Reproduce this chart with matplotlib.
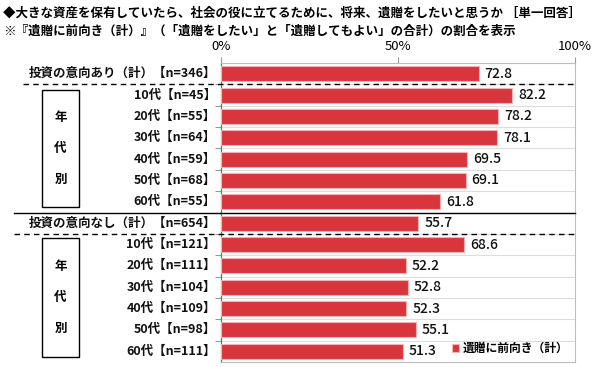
import matplotlib
matplotlib.use("Agg")
import matplotlib.pyplot as plt
import matplotlib.transforms as mtransforms
from matplotlib.patches import Rectangle

plt.rcParams["font.family"] = ["Noto Sans CJK JP", "DejaVu Sans"]

# data
labels = [
    "投資の意向あり（計）【n=346】",
    "10代【n=45】", "20代【n=55】", "30代【n=64】",
    "40代【n=59】", "50代【n=68】", "60代【n=55】",
    "投資の意向なし（計）【n=654】",
    "10代【n=121】", "20代【n=111】", "30代【n=104】",
    "40代【n=109】", "50代【n=98】", "60代【n=111】",
]
values = [72.8, 82.2, 78.2, 78.1, 69.5, 69.1, 61.8,
          55.7, 68.6, 52.2, 52.8, 52.3, 55.1, 51.3]
tick_values = [0, 50, 100]
tick_labels = ["0%", "50%", "100%"]
series_name = "遺贈に前向き（計）"

title1 = "◆大きな資産を保有していたら、社会の役に立てるために、将来、遺贈をしたいと思うか ［単一回答］"
title2 = "※『遺贈に前向き（計）』（「遺贈をしたい」と「遺贈してもよい」の合計）の割合を表示"

W, H = 600, 367
fig = plt.figure(figsize=(W / 100, H / 100), dpi=100)
ax = fig.add_axes([221 / W, 1 - 362 / H, 354 / W, 299 / H])

pos = list(range(len(values)))
bars = ax.barh(pos, values, height=0.7, color="#d8363c",
               edgecolor="#f3b3b3", linewidth=0.8, label=series_name, zorder=3)

ax.set_xlim(0, 100)
ax.set_ylim(len(values) - 0.5, -0.5)

# value labels
for p, v in zip(pos, values):
    ax.text(v + 1.7, p, f"{v:.1f}", va="center", ha="left",
            fontsize=10, fontweight="medium", color="#111111")

# row separators
for i in range(1, len(values)):
    ax.axhline(i - 0.5, color="#dddddd", linewidth=0.8, zorder=1)

# axis styling
for side in ["top", "right", "bottom"]:
    ax.spines[side].set_color("#bdbdbd")
    ax.spines[side].set_linewidth(0.8)
ax.spines["left"].set_color("#707070")
ax.spines["left"].set_linewidth(0.9)

ax.xaxis.tick_top()
ax.set_xticks(tick_values)
ax.set_xticklabels(tick_labels, fontsize=9.5)
ax.tick_params(axis="x", length=4, color="#999999", pad=3)

ax.set_yticks([i - 0.5 for i in range(1, len(values))])
ax.set_yticklabels([])
ax.tick_params(axis="y", length=4, color="#999999", direction="out")

# category labels (right aligned left of axis)
lab_tr = mtransforms.blended_transform_factory(fig.transFigure, ax.transData)
for p, lab in zip(pos, labels):
    fig.text(216 / W, p, lab, transform=lab_tr, ha="right", va="center",
             fontsize=9, fontweight="bold", color="#111111")

# group separators
ax.plot([23 / W, 575 / W], [0.5, 0.5], transform=lab_tr, color="black",
        linewidth=1, linestyle=(0, (4, 3)), clip_on=False, zorder=5)
ax.plot([14 / W, 575 / W], [6.5, 6.5], transform=lab_tr, color="black",
        linewidth=1, clip_on=False, zorder=5)
ax.plot([14 / W, 575 / W], [7.5, 7.5], transform=lab_tr, color="black",
        linewidth=1, linestyle=(0, (4, 3)), clip_on=False, zorder=5)

# "年代別" boxes
for top, bottom in [(0.78, 6.25), (7.7, 13.27)]:
    box = Rectangle((42 / W, top), 37 / W, bottom - top, transform=lab_tr,
                    fill=False, edgecolor="black", linewidth=1, clip_on=False)
    fig.add_artist(box)
    mid = (top + bottom) / 2
    for k, ch in enumerate("年代別"):
        fig.text(60.5 / W, mid + (k - 1) * 1.45, ch, transform=lab_tr,
                 ha="center", va="center", fontsize=9, fontweight="bold")

# titles
fig.text(3 / W, 1 - 13 / H, title1, ha="left", va="center",
         fontsize=9, fontweight="bold")
fig.text(3 / W, 1 - 31 / H, title2, ha="left", va="center",
         fontsize=9, fontweight="bold")

leg = ax.legend(loc="lower right", bbox_to_anchor=(1.0, 0.0), frameon=False,
                handlelength=0.6, handleheight=0.6, handletextpad=0.3,
                borderaxespad=0.2, prop={"size": 8.5, "weight": "bold"})

fig.savefig("out.png", dpi=100)
